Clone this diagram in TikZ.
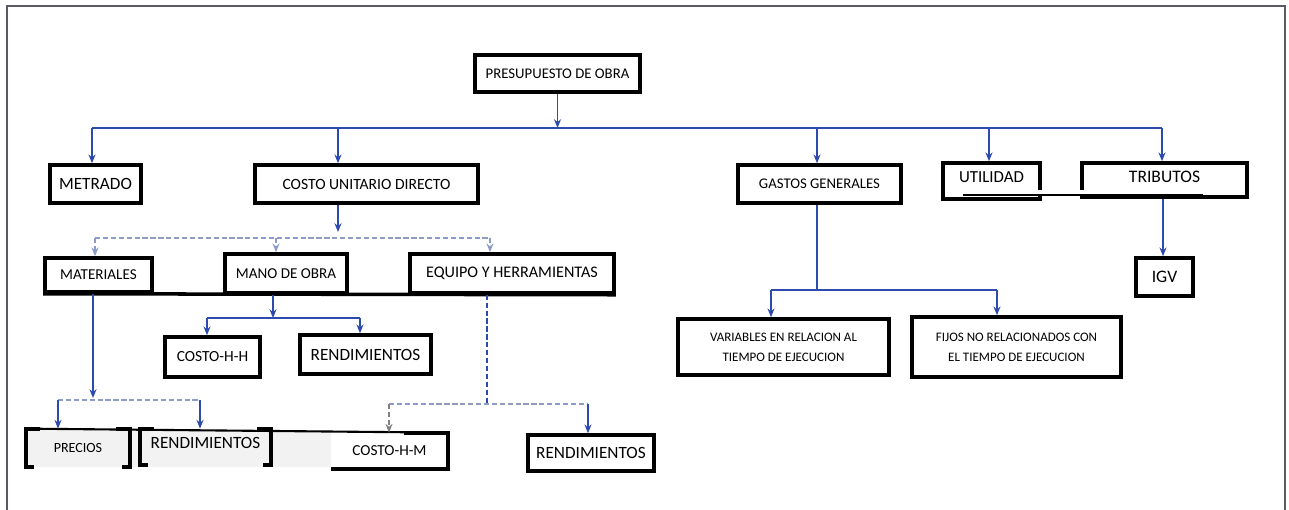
\documentclass[tikz,border=0pt]{standalone}
\usepackage{fontspec}
\setmainfont{Carlito}
\usetikzlibrary{arrows.meta}
\definecolor{cblue}{RGB}{45,75,175}
\definecolor{cdash}{RGB}{140,155,200}
\definecolor{cframe}{RGB}{90,90,100}
\tikzset{
  box/.style={draw=black, line width=2pt, inner sep=0pt, align=center, fill=white},
  sz/.style 2 args={minimum width=#1*0.02cm, minimum height=#2*0.02cm},
  conn/.style={draw=cblue, line width=1pt},
  dconn/.style={draw=cdash, line width=0.9pt, dash pattern=on 3pt off 1.5pt},
  arr/.style={conn, -{Stealth[length=5pt,width=4pt]}},
  darr/.style={dconn, -{Stealth[length=5pt,width=4pt]}}
}
\begin{document}
\begin{tikzpicture}[x=0.02cm,y=-0.02cm]
\useasboundingbox (0,0) rectangle (1289,510);
% frame
\draw[cframe, line width=1.1pt] (7,510) -- (7,6) -- (1285,6) -- (1285,510);

% bottom row background
\fill[black!5] (25,430) rectangle (331,467);

% nodes
\node[box, sz={165}{37}, font=\fontsize{8.4}{10}\selectfont] (pres) at (557.5,73.5) {PRESUPUESTO DE OBRA};
\node[box, sz={91}{38}, font=\fontsize{9.8}{11}\selectfont] (metrado) at (95.5,184) {METRADO};
\node[box, sz={223}{38}, font=\fontsize{8.9}{11}\selectfont] (cud) at (366.5,184) {COSTO UNITARIO DIRECTO};
\node[box, sz={163}{38}, font=\fontsize{8.4}{11}\selectfont] (gastos) at (819.5,184) {GASTOS GENERALES};
\node[box, sz={97}{36}, font=\fontsize{9.6}{11}\selectfont, text depth=4pt] (util) at (991.5,181) {UTILIDAD};
\node[box, sz={165}{34}, font=\fontsize{10}{11}\selectfont, text depth=4pt] (trib) at (1164.5,180) {TRIBUTOS};

\node[box, sz={107}{34}, font=\fontsize{8.6}{10}\selectfont] (mat) at (98.5,275) {MATERIALES};
\node[box, sz={122}{39}, font=\fontsize{8.6}{10}\selectfont] (mano) at (286,273.5) {MANO DE OBRA};
\node[box, sz={204}{39}, font=\fontsize{9.2}{11}\selectfont] (equipo) at (512,273.5) {EQUIPO Y HERRAMIENTAS};

\node[box, sz={95}{40}, font=\fontsize{8.8}{10}\selectfont] (chh) at (212.5,357) {COSTO-H-H};
\node[box, sz={131}{39}, font=\fontsize{9.8}{11}\selectfont] (rend1) at (365.5,354.5) {RENDIMIENTOS};

\node[inner sep=0pt, sz={104}{38}, font=\fontsize{8}{10}\selectfont] (precios) at (78,448) {PRECIOS};
\node[inner sep=0pt, sz={131}{36}, font=\fontsize{9.8}{11}\selectfont, text depth=5pt] (rend2) at (205.5,447) {RENDIMIENTOS};
\node[inner sep=0pt, sz={117}{36}, font=\fontsize{8.7}{10}\selectfont] (chm) at (389.5,451) {COSTO-H-M};
\node[box, sz={126}{36}, font=\fontsize{9.8}{11}\selectfont] (rend3) at (591,453) {RENDIMIENTOS};

\node[box, sz={211}{56}, font=\fontsize{7.4}{11.5}\selectfont] (var) at (783.5,347) {VARIABLES EN RELACION AL\\TIEMPO DE EJECUCION};
\node[box, sz={209}{60}, font=\fontsize{7.4}{11.5}\selectfont] (fijos) at (1016.5,347) {FIJOS NO RELACIONADOS CON\\EL TIEMPO DE EJECUCION};
\node[box, sz={57}{38}, font=\fontsize{10}{11}\selectfont] (igv) at (1164.5,277) {IGV};

% bottom-row bracket shapes
\draw[black, line width=2.2pt] ([xshift=8]precios.north west) -| (precios.south west) -- ++(8,0);
\draw[black, line width=2.2pt] ([xshift=-8]precios.north east) -| (precios.south east) -- ++(-8,0);
\draw[black, line width=2.2pt] ([xshift=8]rend2.north west) -| (rend2.south west) -- ++(8,0);
\draw[black, line width=2.2pt] ([xshift=-8]rend2.north east) -| (rend2.south east) -- ++(-8,0);
\draw[black, line width=1.2pt] (precios.north west) -- (chm.north east);
\draw[black, line width=2.2pt] ([xshift=-25]chm.north east) -- (chm.north east) -- (chm.south east) -- (chm.south west);

% bottom line across second-level boxes
\draw[black, line width=2pt] (mat.south west) -- (equipo.south east);
% line across utilidad / tributos
\fill[white] (963,190) rectangle (1203,194);
\draw[black, line width=1pt] (963,195) -- (1203,195);

% ---- connectors ----
\coordinate (busL) at (92,128);
\coordinate (busR) at (1162,128);
\draw[conn] (busL) -- (busR);
\draw[arr] (pres.south) -- (pres.south |- busL);
\coordinate (b1) at (92,128);
\coordinate (b2) at (338,128);
\coordinate (b3) at (817,128);
\coordinate (b4) at (989,128);
\coordinate (b5) at (1162,128);
\draw[arr] (b1) -- (b1 |- metrado.north);
\draw[arr] (b2) -- (b2 |- cud.north);
\draw[arr] (b3) -- (b3 |- gastos.north);
\draw[arr] (b4) -- (b4 |- util.north);
\draw[arr] (b5) -- (b5 |- trib.north);

% CUD branch
\coordinate (c0) at (338,232);
\draw[arr] (c0 |- cud.south) -- (c0);
\coordinate (cL) at (95,238);
\coordinate (cM) at (276,238);
\coordinate (cR) at (490,238);
\draw[dconn] (cL) -- (cR);
\draw[darr] (cL) -- (cL |- mat.north);
\draw[darr] (cM) -- (cM |- mano.north);
\draw[darr] (cR) -- (cR |- equipo.north);

% mano de obra branch
\coordinate (m0) at (273,318);
\draw[arr] (m0 |- mano.south) -- (m0);
\coordinate (mL) at (207,318);
\coordinate (mR) at (360,318);
\draw[conn] (mL) -- (mR);
\draw[arr] (mL) -- (mL |- chh.north);
\draw[arr] (mR) -- (mR |- rend1.north);

% materiales branch
\coordinate (t0) at (93,398);
\draw[arr] (t0 |- mat.south) -- (t0);
\coordinate (tL) at (58,400);
\coordinate (tR) at (200,400);
\draw[dconn] (tL) -- (tR);
\draw[arr] (tL) -- (tL |- precios.north);
\draw[arr] (tR) -- (tR |- rend2.north);

% equipo branch
\coordinate (e0) at (487,404);
\draw[dconn, draw=cblue] (e0 |- equipo.south) -- (e0);
\coordinate (eL) at (389,404);
\coordinate (eR) at (588,404);
\draw[dconn] (eL) -- (eR);
\draw[darr, draw=gray] (eL) -- (eL |- chm.north);
\draw[arr] (eR) -- (eR |- rend3.north);

% gastos branch
\coordinate (g0) at (817,290);
\draw[conn] (g0 |- gastos.south) -- (g0);
\coordinate (gL) at (771,290);
\coordinate (gR) at (997,290);
\draw[conn] (gL) -- (gR);
\draw[arr] (gL) -- (gL |- var.north);
\draw[arr] (gR) -- (gR |- fijos.north);

% tributos branch
\coordinate (r0) at (1163,200);
\draw[arr] (r0 |- trib.south) -- (r0 |- igv.north);
\end{tikzpicture}
\end{document}
